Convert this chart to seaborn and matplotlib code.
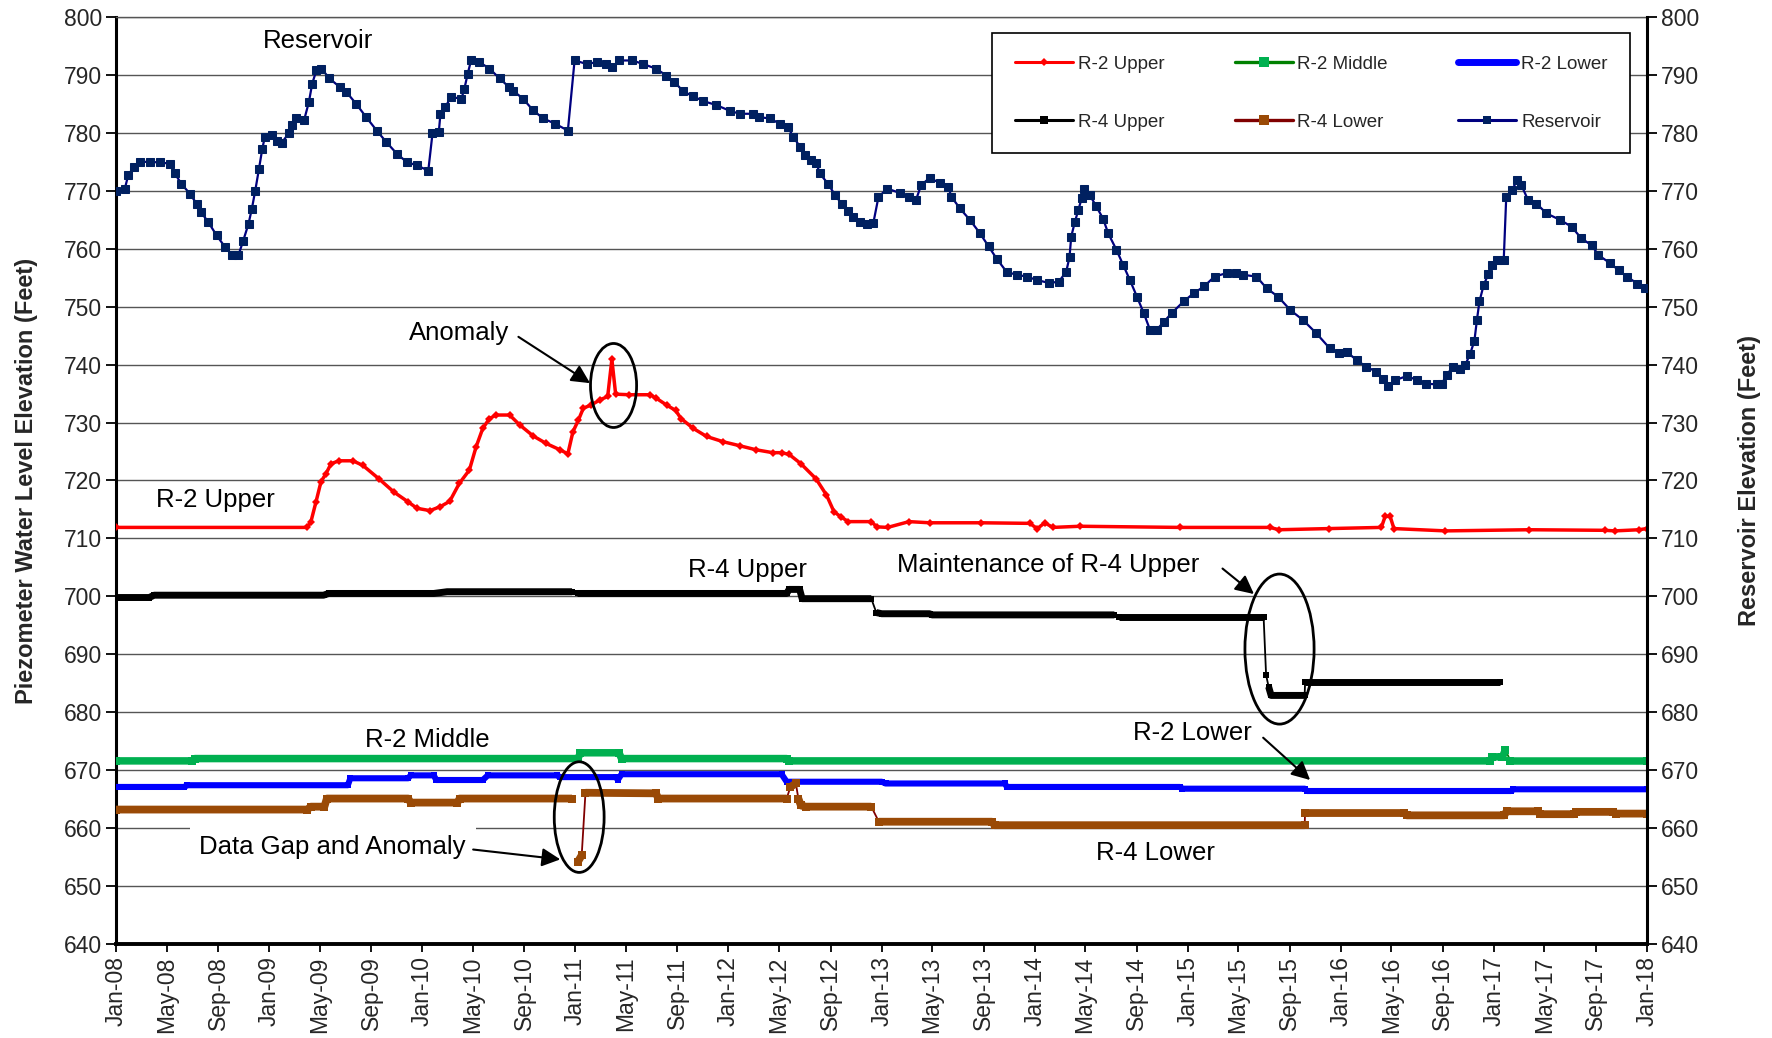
import numpy as np
import pandas as pd
import matplotlib
matplotlib.use("Agg")
import matplotlib.pyplot as plt
import matplotlib.dates as mdates
from matplotlib.lines import Line2D
from matplotlib.patches import Ellipse
import seaborn as sns

sns.set_theme(style="white")
plt.rcParams["font.family"] = ["Liberation Sans", "DejaVu Sans"]

# ---------------------------------------------------------------- reservoir
res_dates = [
    "2008-01-02", "2008-01-22", "2008-01-30", "2008-02-12", "2008-02-27", "2008-03-21", "2008-04-14",
    "2008-05-08", "2008-05-20", "2008-06-05", "2008-06-25", "2008-07-11", "2008-07-22", "2008-08-08",
    "2008-08-28", "2008-09-17", "2008-10-03", "2008-10-19", "2008-10-30", "2008-11-12", "2008-11-20",
    "2008-11-28", "2008-12-07", "2008-12-15", "2008-12-21",
    "2009-01-07", "2009-01-19", "2009-01-30", "2009-02-16", "2009-02-24", "2009-03-06", "2009-03-25",
    "2009-04-05", "2009-04-13", "2009-04-23", "2009-05-05", "2009-05-24", "2009-06-18", "2009-07-03",
    "2009-07-27", "2009-08-20", "2009-09-14", "2009-10-07", "2009-11-01", "2009-11-24", "2009-12-18",
    "2010-01-15", "2010-01-25", "2010-02-09", "2010-02-13", "2010-02-25", "2010-03-10", "2010-04-04",
    "2010-04-11", "2010-04-19", "2010-04-27", "2010-05-17", "2010-06-10", "2010-07-04", "2010-07-27",
    "2010-08-05", "2010-08-29", "2010-09-22", "2010-10-16", "2010-11-13", "2010-12-14", "2010-12-30",
    "2011-01-28", "2011-02-21", "2011-03-15", "2011-03-30", "2011-04-16", "2011-05-17", "2011-06-11",
    "2011-07-12", "2011-08-06", "2011-08-25", "2011-09-15", "2011-10-09", "2011-11-02", "2011-12-03",
    "2012-01-05", "2012-01-28", "2012-02-28", "2012-03-15", "2012-04-09", "2012-05-02", "2012-05-22",
    "2012-06-04", "2012-06-20", "2012-07-01", "2012-07-17", "2012-07-29", "2012-08-06", "2012-08-26",
    "2012-09-12", "2012-09-27", "2012-10-13", "2012-10-25", "2012-11-10", "2012-11-26", "2012-12-12",
    "2012-12-24",
    "2013-01-14", "2013-02-14", "2013-03-08", "2013-03-24", "2013-04-05", "2013-04-25", "2013-05-19",
    "2013-06-09", "2013-06-16", "2013-07-06", "2013-07-30", "2013-08-23", "2013-09-13", "2013-10-02",
    "2013-10-26", "2013-11-19", "2013-12-13",
    "2014-01-06", "2014-02-04", "2014-02-27", "2014-03-17", "2014-03-25", "2014-03-29", "2014-04-07",
    "2014-04-15", "2014-04-23", "2014-04-28", "2014-05-12", "2014-05-28", "2014-06-13", "2014-06-25",
    "2014-07-15", "2014-07-31", "2014-08-16", "2014-09-02", "2014-09-18", "2014-10-03", "2014-10-19",
    "2014-11-05", "2014-11-24", "2014-12-22",
    "2015-01-15", "2015-02-09", "2015-03-06", "2015-04-04", "2015-04-27", "2015-05-13", "2015-06-14",
    "2015-07-08", "2015-08-05", "2015-09-03", "2015-10-03", "2015-11-04", "2015-12-06", "2015-12-29",
    "2016-01-15", "2016-02-08", "2016-03-02", "2016-03-26", "2016-04-11", "2016-04-23", "2016-05-09",
    "2016-06-06", "2016-06-30", "2016-07-23", "2016-08-17", "2016-08-29", "2016-09-10", "2016-09-24",
    "2016-10-12", "2016-10-24", "2016-11-05", "2016-11-15", "2016-11-21", "2016-11-27", "2016-12-07",
    "2016-12-18", "2016-12-26",
    "2017-01-08", "2017-01-24", "2017-01-30", "2017-02-13", "2017-02-25", "2017-03-07", "2017-03-23",
    "2017-04-12", "2017-05-06", "2017-06-07", "2017-07-05", "2017-07-28", "2017-08-22", "2017-09-07",
    "2017-10-05", "2017-10-25", "2017-11-14", "2017-12-08", "2017-12-27",
]
res_values = [
    770.0, 770.4, 772.7, 774.1, 775.0, 775.0, 774.9,
    774.7, 773.0, 771.2, 769.5, 767.8, 766.3, 764.6,
    762.3, 760.3, 759.0, 758.9, 761.3, 764.3, 766.9,
    770.0, 773.8, 777.3, 779.3,
    779.6, 778.6, 778.3, 779.9, 781.3, 782.5, 782.3,
    785.3, 788.5, 790.8, 791.1, 789.4, 787.9, 787.1,
    785.0, 782.7, 780.4, 778.4, 776.4, 775.0, 774.4,
    773.5, 779.9, 780.1, 783.3, 784.5, 786.2, 785.9,
    787.6, 790.2, 792.5, 792.2, 791.1, 789.4, 787.9,
    787.3, 785.9, 783.9, 782.5, 781.6, 780.4, 792.5,
    791.9, 792.2, 791.9, 791.4, 792.5, 792.5, 791.9,
    791.1, 789.9, 788.8, 787.2, 786.3, 785.5, 784.8,
    783.8, 783.3, 783.3, 782.7, 782.5, 781.6, 781.0,
    779.3, 777.6, 776.1, 775.3, 774.8, 773.0, 771.2,
    769.2, 767.8, 766.6, 765.5, 764.6, 764.3, 764.5,
    768.9,
    770.4, 769.6, 769.0, 768.5, 771.0, 772.2, 771.4,
    770.6, 769.0, 767.0, 765.0, 762.7, 760.4, 758.3,
    756.0, 755.5, 755.2,
    754.6, 754.1, 754.3, 756.0, 758.6, 762.1, 764.7,
    766.7, 768.7, 770.4, 769.3, 767.3, 765.2, 762.7,
    759.8, 757.2, 754.6, 751.7, 748.9, 746.0, 746.0,
    747.4, 748.9, 750.9,
    752.3, 753.5, 755.2, 755.8, 755.9, 755.5, 755.2,
    753.2, 751.7, 749.4, 747.7, 745.4, 742.8, 742.0,
    742.2, 740.8, 739.6, 738.8, 737.6, 736.3, 737.3,
    738.0, 737.4, 736.7, 736.6, 736.7, 738.2, 739.6,
    739.3, 739.9, 741.9, 744.1, 747.7, 750.9, 753.7,
    755.6, 757.2,
    758.1, 758.1, 769.0, 770.1, 771.9, 771.0, 768.4,
    767.8, 766.1, 765.0, 763.8, 761.8, 760.6, 758.9,
    757.5, 756.3, 755.2, 754.0, 753.2,
]

# ---------------------------------------------------------------- R-2 Upper
r2u_dates = [
    "2008-01-01", "2009-04-01", "2009-04-10", "2009-04-22", "2009-05-04", "2009-05-16", "2009-05-28",
    "2009-06-16", "2009-07-19", "2009-08-12", "2009-09-19", "2009-10-25", "2009-11-28", "2009-12-19",
    "2010-01-19", "2010-02-13", "2010-03-07", "2010-03-30", "2010-04-23", "2010-05-09", "2010-05-25",
    "2010-06-10", "2010-06-26", "2010-07-28", "2010-08-21", "2010-09-22", "2010-10-23", "2010-11-25",
    "2010-12-14", "2010-12-26", "2011-01-08", "2011-01-20", "2011-02-07", "2011-02-28", "2011-03-19",
    "2011-03-29", "2011-04-07", "2011-05-10", "2011-06-28", "2011-07-13", "2011-08-07", "2011-08-28",
    "2011-09-10", "2011-10-09", "2011-11-10", "2011-12-19", "2012-01-28", "2012-03-07", "2012-04-16",
    "2012-05-07", "2012-05-25", "2012-06-22", "2012-07-28", "2012-08-22", "2012-09-09", "2012-09-26",
    "2012-10-13", "2012-12-07", "2012-12-20", "2013-01-15", "2013-03-07", "2013-04-25", "2013-08-25",
    "2013-12-20", "2014-01-07", "2014-01-25", "2014-02-13", "2014-04-19", "2014-12-13", "2015-07-16",
    "2015-08-07", "2015-12-04", "2016-04-07", "2016-04-16", "2016-04-28", "2016-05-07", "2016-09-07",
    "2017-03-25", "2017-09-22", "2017-10-16", "2017-12-13", "2017-12-31",
]
r2u_values = [
    711.9, 711.9, 712.9, 716.3, 719.8, 721.2, 722.9,
    723.4, 723.4, 722.6, 720.3, 718.0, 716.3, 715.2,
    714.8, 715.5, 716.4, 719.5, 721.8, 725.8, 729.0,
    730.7, 731.3, 731.3, 729.6, 727.7, 726.4, 725.3,
    724.6, 728.4, 730.4, 732.5, 733.0, 733.9, 734.5,
    740.9, 734.9, 734.8, 734.8, 734.2, 733.0, 732.1,
    730.7, 729.0, 727.6, 726.7, 726.0, 725.3, 724.8,
    724.8, 724.5, 722.9, 720.3, 717.5, 714.6, 713.7,
    712.9, 712.9, 712.0, 711.9, 712.9, 712.7, 712.7,
    712.6, 711.7, 712.7, 711.9, 712.1, 711.9, 711.9,
    711.5, 711.7, 711.9, 713.8, 713.8, 711.7, 711.3,
    711.5, 711.4, 711.3, 711.5, 711.7,
]

# ---------------------------------------------------------------- R-4 Upper (None = no record)
r4u_dates = [
    "2008-01-01", "2008-03-20", "2008-04-01", "2009-05-10", "2009-05-22", "2010-01-28", "2010-03-01",
    "2010-12-24", None, "2011-01-06", "2012-05-19", "2012-05-25", "2012-06-19", "2012-06-25",
    "2012-12-07", "2012-12-19", "2013-01-01", "2013-04-25", "2013-05-01", "2014-07-10", None,
    "2014-07-22", "2015-07-01", "2015-07-07", "2015-07-13", "2015-07-19", "2015-10-07", "2015-10-08",
    "2017-01-16",
]
r4u_values = [
    699.8, 699.8, 700.2, 700.2, 700.5, 700.5, 700.8,
    700.8, None, 700.5, 700.5, 701.2, 701.2, 699.6,
    699.6, 697.2, 697.0, 697.0, 696.8, 696.8, None,
    696.5, 696.5, 686.4, 684.4, 682.9, 682.9, 685.2,
    685.2,
]

# ---------------------------------------------------------------- R-2 Middle
r2m_dates = [
    "2008-01-01", "2008-07-01", "2008-07-07", "2011-01-07", "2011-01-13", "2011-04-15", "2011-04-21",
    "2012-05-19", "2012-05-25", "2016-12-22", "2016-12-28", "2017-01-21", "2017-01-28", "2017-02-09",
    "2017-12-31",
]
r2m_values = [
    671.6, 671.6, 672.0, 672.0, 673.0, 673.0, 672.0,
    672.0, 671.6, 671.6, 672.3, 672.3, 673.5, 671.6,
    671.6,
]

# ---------------------------------------------------------------- R-2 Lower
r2l_dates = [
    "2008-01-01", "2008-06-12", "2008-06-18", "2009-07-07", "2009-07-13", "2009-11-28", "2009-12-04",
    "2010-01-28", "2010-02-03", "2010-05-25", "2010-06-06", "2010-11-19", "2010-11-25", "2011-04-09",
    "2011-04-12", "2011-04-21", "2012-05-07", "2012-05-19", "2013-01-01", "2013-01-10", "2013-10-21",
    "2013-10-27", "2014-12-13", "2014-12-19", "2015-10-07", "2015-10-13", "2017-02-10", "2017-02-16",
    "2017-12-31",
]
r2l_values = [
    667.1, 667.1, 667.4, 667.4, 668.6, 668.6, 669.1,
    669.1, 668.3, 668.3, 669.1, 669.1, 668.8, 668.8,
    668.3, 669.3, 669.3, 668.0, 668.0, 667.7, 667.7,
    667.1, 667.1, 666.8, 666.8, 666.4, 666.4, 666.7,
    666.7,
]

# ---------------------------------------------------------------- R-4 Lower (None = data gap)
r4l_dates = [
    "2008-01-01", "2009-04-01", "2009-04-10", "2009-05-12", "2009-05-18", "2009-11-28", "2009-12-04",
    "2010-03-25", "2010-03-31", "2010-12-24", None, "2011-01-07", "2011-01-16", "2011-01-25",
    "2011-07-12", "2011-07-18", "2012-05-19", "2012-05-28", "2012-06-10", "2012-06-16", "2012-06-22",
    "2012-07-04", "2012-12-07", "2012-12-25", "2013-09-21", "2013-09-27", "2015-10-07", "2015-10-08",
    "2016-06-01", "2016-06-07", "2017-01-25", "2017-01-31", "2017-04-15", "2017-04-21", "2017-07-10",
    "2017-07-16", "2017-10-12", "2017-10-18", "2017-12-31",
]
r4l_values = [
    663.2, 663.2, 663.7, 663.7, 665.1, 665.1, 664.4,
    664.4, 665.1, 665.1, None, 654.2, 655.3, 666.1,
    666.0, 665.1, 665.1, 667.1, 667.7, 665.1, 663.9,
    663.7, 663.7, 661.1, 661.1, 660.5, 660.5, 662.6,
    662.6, 662.2, 662.2, 662.9, 662.9, 662.4, 662.4,
    662.8, 662.8, 662.5, 662.5,
]

y_ticks = list(range(640, 801, 10))
x_start, x_end = "2008-01-01", "2018-01-01"


def to_frame(dates, values, jump=1.8):
    """Build a table; None rows split the record, big steps split the marker band."""
    df = pd.DataFrame({"date": pd.to_datetime(pd.Series(dates)),
                       "value": pd.to_numeric(pd.Series(values))})
    df["record"] = df["value"].isna().cumsum()
    df = df.dropna().reset_index(drop=True)
    step = df["value"].diff().abs().fillna(0) > jump
    new_rec = df["record"].diff().fillna(0) != 0
    df["run"] = (step | new_rec).cumsum()
    return df


def draw_band(ax, df, line_color, band_color, band_lw, thin_lw=1.3):
    sns.lineplot(data=df, x="date", y="value", units="record", estimator=None,
                 color=line_color, lw=thin_lw, ax=ax, legend=False, zorder=3)
    sns.lineplot(data=df, x="date", y="value", units="run", estimator=None,
                 color=band_color, lw=band_lw, marker="s", markersize=band_lw,
                 markeredgewidth=0, solid_capstyle="butt", ax=ax, legend=False, zorder=4)


fig = plt.figure(figsize=(17.72, 10.38), dpi=100)
ax = fig.add_axes([0.0655, 0.0906, 0.864, 0.893])
ax2 = ax.twinx()

r2u = to_frame(r2u_dates, r2u_values)
sns.lineplot(data=r2u, x="date", y="value", estimator=None, color="#FF0000", lw=2.5,
             marker="D", markersize=3.8, markeredgewidth=0, ax=ax, legend=False, zorder=4)

draw_band(ax, to_frame(r4u_dates, r4u_values), "black", "black", 5.0)
draw_band(ax, to_frame(r2m_dates, r2m_values), "#008000", "#00B050", 5.4)
draw_band(ax, to_frame(r2l_dates, r2l_values), "#0000FF", "#0000FF", 4.4)
draw_band(ax, to_frame(r4l_dates, r4l_values), "#800000", "#9A4A06", 5.6)

res = to_frame(res_dates, res_values, jump=1000)
sns.lineplot(data=res, x="date", y="value", estimator=None, color="#000080", lw=1.6,
             marker="s", markersize=5.5, markerfacecolor="#002060", markeredgecolor="#002060",
             ax=ax2, legend=False, zorder=4)

# axes, ticks, grid
for a in (ax, ax2):
    a.set_ylim(640, 800)
    a.set_yticks(y_ticks)
ax.set_xlim(pd.Timestamp(x_start), pd.Timestamp(x_end))
ax.xaxis.set_major_locator(mdates.MonthLocator(bymonth=[1, 5, 9]))
ax.xaxis.set_major_formatter(mdates.DateFormatter("%b-%y"))
ax.yaxis.grid(True, color="#555555", lw=1.0)
ax.xaxis.grid(False)
ax.set_axisbelow(True)
ax.tick_params(axis="x", which="major", direction="out", length=6, width=1.3, color="black",
               bottom=True, labelsize=16.5, labelrotation=90, pad=3)
ax.tick_params(axis="y", which="major", direction="out", length=7, width=1.3, color="black",
               left=True, labelsize=16.5, pad=3)
ax2.tick_params(axis="y", which="major", direction="out", length=7, width=1.3, color="black",
                right=True, labelsize=16.5, pad=3)
ax.set_xlabel("")
ax.set_ylabel("Piezometer Water Level Elevation (Feet)", fontsize=17, fontweight="bold", labelpad=19)
ax2.set_xlabel("")
ax2.set_ylabel("Reservoir Elevation (Feet)", fontsize=17, fontweight="bold", labelpad=28, rotation=90)

for side in ("left", "bottom"):
    ax.spines[side].set_color("black")
ax.spines["left"].set_linewidth(2.2)
ax.spines["bottom"].set_linewidth(2.8)
ax.spines["top"].set_color("#555555")
ax.spines["top"].set_linewidth(1.0)
ax.spines["right"].set_visible(False)
for side in ("left", "top", "bottom"):
    ax2.spines[side].set_visible(False)
ax2.spines["right"].set_color("black")
ax2.spines["right"].set_linewidth(2.2)

# annotations
T = lambda s: mdates.date2num(pd.Timestamp(s))
txt = dict(fontsize=18.5, ha="center", va="center", color="black", zorder=6)
ax.text(T("2009-04-26"), 795.9, "Reservoir", **txt)
ax.text(T("2010-03-30"), 745.4, "Anomaly", **txt)
ax.text(T("2008-08-26"), 716.6, "R-2 Upper", **txt)
ax.text(T("2012-02-16"), 704.5, "R-4 Upper", **txt)
ax.text(T("2014-02-03"), 705.4, "Maintenance of R-4 Upper", **txt)
ax.text(T("2015-01-13"), 676.5, "R-2 Lower", **txt)
ax.text(T("2010-01-13"), 675.2, "R-2 Middle", **txt)
ax.text(T("2014-10-17"), 655.7, "R-4 Lower", **txt)
ax.text(T("2009-06-01"), 656.7, "Data Gap and Anomaly",
        bbox=dict(facecolor="white", edgecolor="none", pad=7), **txt)

arrow = dict(arrowstyle="-|>", color="black", lw=1.5, mutation_scale=28, shrinkA=0, shrinkB=0)
for (d0, v0), (d1, v1) in [
    (("2010-08-18", 744.8), ("2011-02-05", 736.8)),
    (("2010-05-02", 656.3), ("2010-11-26", 654.6)),
    (("2015-03-25", 704.8), ("2015-06-08", 700.4)),
    (("2015-06-30", 675.6), ("2015-10-20", 668.3)),
]:
    ax.annotate("", xy=(T(d1), v1), xytext=(T(d0), v0), arrowprops=arrow, zorder=6)

for center, value, days, height in [
    ("2011-04-02", 736.4, 110, 14.5),
    ("2011-01-10", 661.9, 119, 19.1),
    ("2015-08-08", 690.9, 165, 25.9),
]:
    ax.add_patch(Ellipse((T(center), value), width=days, height=height, fill=False,
                         edgecolor="black", lw=2.0, zorder=6))

# legend
handles = [
    Line2D([], [], color="#FF0000", lw=2.2, marker="D", markersize=4, markeredgewidth=0),
    Line2D([], [], color="black", lw=2.2, marker="s", markersize=6, markeredgewidth=0),
    Line2D([], [], color="#008000", lw=2.4, marker="s", markersize=6.5,
           markerfacecolor="#00B050", markeredgewidth=0),
    Line2D([], [], color="#800000", lw=2.4, marker="s", markersize=6.5,
           markerfacecolor="#9A4A06", markeredgewidth=0),
    Line2D([], [], color="#0000FF", lw=5.0, solid_capstyle="round"),
    Line2D([], [], color="#000080", lw=2.2, marker="s", markersize=6,
           markerfacecolor="#002060", markeredgewidth=0),
]
labels = ["R-2 Upper", "R-4 Upper", "R-2 Middle", "R-4 Lower", "R-2 Lower", "Reservoir"]
leg = ax2.legend(handles, labels, ncol=3, loc="upper right", bbox_to_anchor=(0.995, 0.993),
                 fontsize=13.5, frameon=True, fancybox=False, framealpha=1, edgecolor="black",
                 handlelength=3.1, handletextpad=0.25, columnspacing=3.75, labelspacing=2.2,
                 borderpad=1.2)
leg.get_frame().set_linewidth(1.2)

fig.savefig("out.png", dpi=100, facecolor="white")
